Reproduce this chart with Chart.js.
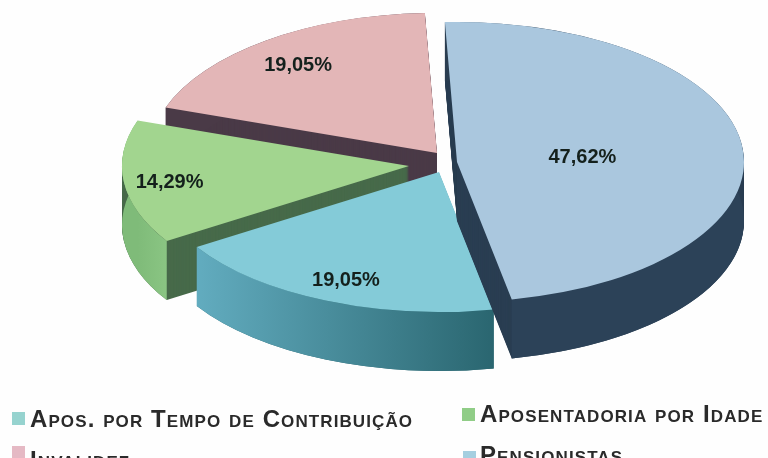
<!DOCTYPE html>
<html>
<head>
<meta charset="utf-8">
<style>
  html, body { margin: 0; padding: 0; background: #fefefe; overflow: hidden; }
  canvas { display: block; }
</style>
</head>
<body>
<canvas id="pieChart" width="768" height="458"></canvas>
<script src="https://cdn.jsdelivr.net/npm/chart.js@4"></script>
<script>
const categories = ['Apos. por Tempo de Contribuição', 'Aposentadoria por Idade', 'Invalidez', 'Pensionistas'];
const shares = [19.05, 14.29, 19.05, 47.62];
const topColors = ['#84cbd8', '#a2d58f', '#e3b6b7', '#aac7de'];
const cutColors = ['#2a6670', '#476a4a', '#4a3a47', '#2a3e52'];
const wallFrom = ['#2a6670', '#8ac583', '#4a3a47', '#2a3d50'];
const wallTo = ['#62acbf', '#7fbb79', '#4a3a47', '#2c4258'];
const swatchColors = ['#96d3cf', '#90cd87', '#e5b9c4', '#a5cfe0'];
const labelReach = [0.82, 0.84, 0.81, 0.44];

// how far each slice is pulled out of the pie, in screen pixels
const pull = [{ x: 4, y: 9 }, { x: -26, y: 3 }, { x: 2, y: -10 }, { x: 22, y: -1 }];
const drawOrder = [2, 1, 0, 3];
const depth = 59;
const pieCenter = { x: 435, y: 163 };
const pieSize = { x: 287, y: 140 };

// The pie is laid out flat by Chart.js, then tilted here with a canvas transform
const tiltedPie = {
    id: 'tiltedPie',
    beforeDatasetDraw(chart) {
        const ctx = chart.ctx;
        const arcs = chart.getDatasetMeta(0).data;

        drawOrder.forEach(i => {
            const arc = arcs[i];
            const p = arc.getProps(['x', 'y', 'startAngle', 'endAngle', 'outerRadius']);
            const sx = pieSize.x / p.outerRadius;
            const sy = pieSize.y / p.outerRadius;
            const x0 = p.x + Math.cos(p.startAngle) * p.outerRadius;
            const x1 = p.x + Math.cos(p.endAngle) * p.outerRadius;

            ctx.save();
            ctx.translate(pieCenter.x + pull[i].x, pieCenter.y + pull[i].y);
            ctx.scale(sx, sy);
            ctx.translate(-p.x, -p.y);

            // the two cut faces, stacked one pixel at a time
            ctx.fillStyle = cutColors[i];
            for (let k = depth; k >= 1; k--) {
                ctx.beginPath();
                ctx.moveTo(p.x, p.y + k / sy);
                ctx.arc(p.x, p.y + k / sy, p.outerRadius, p.startAngle, p.endAngle);
                ctx.closePath();
                ctx.fill();
            }

            // outer rim
            const g = ctx.createLinearGradient(x0, 0, x1, 0);
            g.addColorStop(0, wallFrom[i]);
            g.addColorStop(1, wallTo[i]);
            ctx.fillStyle = g;
            ctx.beginPath();
            ctx.arc(p.x, p.y, p.outerRadius, p.startAngle, p.endAngle);
            ctx.arc(p.x, p.y + depth / sy, p.outerRadius, p.endAngle, p.startAngle, true);
            ctx.closePath();
            ctx.fill();

            arc.draw(ctx);
            ctx.restore();
        });

        ctx.save();
        ctx.font = 'bold 20px "Liberation Sans", Arial, sans-serif';
        ctx.fillStyle = '#14201c';
        ctx.textAlign = 'center';
        ctx.textBaseline = 'middle';
        shares.forEach((v, i) => {
            const p = arcs[i].getProps(['startAngle', 'endAngle']);
            const mid = (p.startAngle + p.endAngle) / 2;
            ctx.fillText(v.toFixed(2).replace('.', ',') + '%',
                pieCenter.x + pull[i].x + Math.cos(mid) * pieSize.x * labelReach[i],
                pieCenter.y + pull[i].y + Math.sin(mid) * pieSize.y * labelReach[i] + 3);
        });
        ctx.restore();

        return false;
    }
};

// legend sits in two columns, filled row by row like the original
const pieLegend = {
    id: 'pieLegend',
    afterDraw(chart) {
        const ctx = chart.ctx;
        const spots = [
            { sx: 12, sy: 412, tx: 30, ty: 427 },
            { sx: 462, sy: 408, tx: 480, ty: 422 },
            { sx: 12, sy: 446, tx: 30, ty: 468 },
            { sx: 463, sy: 451, tx: 480, ty: 463 }
        ];
        ctx.save();
        ctx.font = 'small-caps bold 24px "Liberation Sans", Arial, sans-serif';
        ctx.letterSpacing = '1.1px';
        ctx.textAlign = 'left';
        ctx.textBaseline = 'alphabetic';
        categories.forEach((name, i) => {
            const o = spots[i];
            ctx.fillStyle = swatchColors[i];
            ctx.fillRect(o.sx, o.sy, 13, 13);
            ctx.fillStyle = '#2a2a2a';
            ctx.fillText(name, o.tx, o.ty);
        });
        ctx.restore();
    }
};

new Chart(document.getElementById('pieChart'), {
    type: 'pie',
    data: {
        labels: categories,
        datasets: [{
            data: shares,
            backgroundColor: topColors,
            borderWidth: 0,
            hoverOffset: 0,
            clip: false
        }]
    },
    options: {
        responsive: false,
        animation: false,
        rotation: 169,
        layout: { padding: 0 },
        plugins: {
            legend: { display: false },
            tooltip: { enabled: false }
        }
    },
    plugins: [tiltedPie, pieLegend]
});
</script>
</body>
</html>
